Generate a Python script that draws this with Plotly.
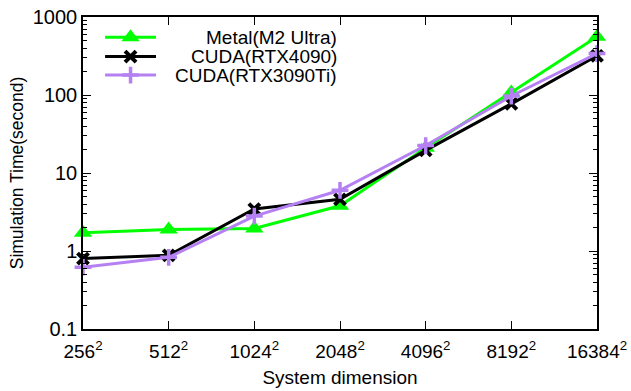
import plotly.graph_objects as go

categories = ["256", "512", "1024", "2048", "4096", "8192", "16384"]
metal_m2_ultra = [1.72, 1.88, 1.95, 3.8, 21.0, 108, 560]
cuda_rtx4090 = [0.80, 0.88, 3.45, 4.6, 19.5, 77, 318]
cuda_rtx3090ti = [0.62, 0.83, 2.8, 6.0, 22.5, 97, 340]

series_names = ["Metal(M2 Ultra)", "CUDA(RTX4090)", "CUDA(RTX3090Ti)"]
series_values = [metal_m2_ultra, cuda_rtx4090, cuda_rtx3090ti]
colors = ["#00ff00", "#000000", "#b581f2"]
markers = [
    dict(symbol="triangle-up", size=16),
    dict(symbol="x-thin", size=11, line=dict(width=4)),
    dict(symbol="cross-thin", size=12, line=dict(width=3.5)),
]

FAM = "Liberation Sans, Arial, Helvetica, sans-serif"

xs = list(range(len(categories)))
ticktext = [f"{c}<sup>2</sup>" for c in categories]


def marker_of(mk, col):
    m = dict(mk)
    m["color"] = col
    if "line" in m:
        m["line"] = dict(m["line"], color=col)
    return m


fig = go.Figure()
for name, vals, col, mk in zip(series_names, series_values, colors, markers):
    fig.add_trace(go.Scatter(
        x=xs, y=vals, mode="lines+markers", name=name,
        line=dict(color=col, width=3), marker=marker_of(mk, col),
        cliponaxis=False, showlegend=False,
    ))

# gnuplot-style legend: samples on an invisible overlay axis, right-aligned text
legend_rows = [0.935, 0.873, 0.814]
for name, col, mk, yy in zip(series_names, colors, markers, legend_rows):
    fig.add_trace(go.Scatter(
        x=[0.043, 0.142], y=[yy, yy], xaxis="x2", yaxis="y2", mode="lines",
        line=dict(color=col, width=3), showlegend=False, hoverinfo="skip",
    ))
    fig.add_trace(go.Scatter(
        x=[0.0925], y=[yy], xaxis="x2", yaxis="y2", mode="markers",
        marker=marker_of(mk, col), showlegend=False, hoverinfo="skip",
    ))
    fig.add_annotation(
        x=0.498, y=yy, xref="x2", yref="y2", text=name, showarrow=False,
        xanchor="right", yanchor="middle",
        font=dict(family=FAM, size=19, color="black"),
    )

fig.update_layout(
    width=631, height=391,
    margin=dict(l=83, r=34, t=17, b=62, autoexpand=False),
    plot_bgcolor="white", paper_bgcolor="white",
    font=dict(family=FAM, size=19, color="black"),
    xaxis=dict(
        range=[0, 6], tickvals=xs, ticktext=ticktext,
        ticks="inside", ticklen=8, tickwidth=1, tickcolor="black",
        showline=True, linecolor="black", linewidth=1.5, mirror="allticks",
        showgrid=False, zeroline=False, ticklabelstandoff=4,
        title=dict(text="System dimension", font=dict(size=19), standoff=10),
        tickfont=dict(size=19),
    ),
    yaxis=dict(
        type="log", range=[-1, 3],
        tickvals=[0.1, 1, 10, 100, 1000], ticktext=["0.1", "1", "10", "100", "1000"],
        ticks="inside", ticklen=8, tickwidth=1, tickcolor="black",
        showline=True, linecolor="black", linewidth=1.5, mirror="allticks",
        showgrid=False, zeroline=False,
        minor=dict(ticks="inside", ticklen=4, tickwidth=1, tickcolor="black",
                   dtick="D1", showgrid=False),
        title=dict(text="Simulation Time(second)", font=dict(size=17.5), standoff=5),
        tickfont=dict(size=20),
    ),
    xaxis2=dict(overlaying="x", range=[0, 1], visible=False, fixedrange=True),
    yaxis2=dict(overlaying="y", range=[0, 1], visible=False, fixedrange=True),
    showlegend=False,
)

fig.write_html(
    "out.html",
    config={"displayModeBar": False},
    post_script="document.body.style.margin='0';document.body.style.overflow='hidden';",
)
